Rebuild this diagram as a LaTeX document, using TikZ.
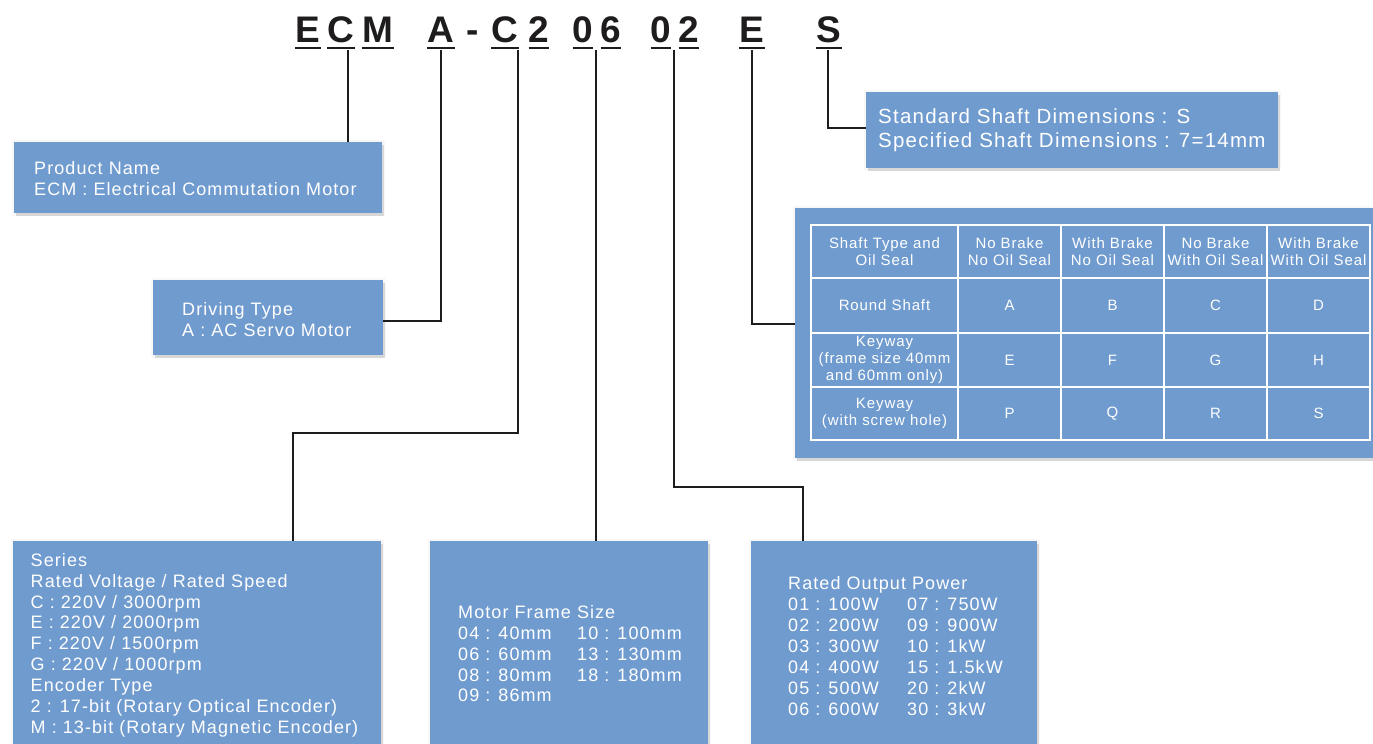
\documentclass[tikz,border=0pt]{standalone}
\usepackage{fontspec}
\setmainfont{Liberation Sans}[LetterSpace=6]
\newfontfamily\codefont{Liberation Sans}
\usetikzlibrary{shadows,calc}
\definecolor{boxblue}{RGB}{112,155,207}
\definecolor{inkline}{RGB}{30,28,28}
\begin{document}
\begin{tikzpicture}[x=1pt,y=-1pt,
  box/.style={fill=boxblue, draw=none, anchor=north west, inner sep=0,
    preaction={draw=black, draw opacity=.03, line width=5pt, line join=round},
    drop shadow={shadow xshift=1.5pt, shadow yshift=-3pt, opacity=.13, fill=black}},
  txt/.style={text=white, anchor=north west, inner sep=0, font=\fontsize{18}{21}\selectfont},
  code/.style={anchor=base, inner sep=0, text=inkline, font=\codefont\bfseries\fontsize{37}{37}\selectfont},
  uline/.style={draw=inkline, line width=1.5pt},
  conn/.style={draw=inkline, line width=1.6pt},
  cell/.style={text=white, align=center, inner sep=0, font=\fontsize{15}{17}\selectfont},
  grid/.style={draw=white, line width=1.4pt}]
\useasboundingbox[fill=white] (0,0) rectangle (1373,744);

% ---- code letters
\foreach \n/\ch/\x in {l1/E/308, l2/C/341, l3/M/378, l4/A/441, l6/C/505, l7/2/539, l8/0/583, l9/6/611, l10/0/661, l11/2/689, l12/E/752, l13/S/829}{
  \node[code] (\n) at (\x,42) {\ch};
  \draw[uline] ([yshift=-6pt]\n.base west) -- ([yshift=-6pt]\n.base east);
}
\node[code] (l5) at (473,42) {-};

% ---- boxes
\node[box, minimum width=368pt, minimum height=71pt] (pn) at (14,142) {};
\node[box, minimum width=230pt, minimum height=75pt] (dt) at (153,280) {};
\node[box, minimum width=368pt, minimum height=215pt] (se) at (13,541) {};
\node[box, minimum width=278pt, minimum height=215pt] (mf) at (430,541) {};
\node[box, minimum width=286pt, minimum height=215pt] (ro) at (751,541) {};
\node[box, minimum width=412pt, minimum height=76pt] (ss) at (866,92) {};
\node[box, minimum width=590pt, minimum height=250pt] (tb) at (795,208) {};

% ---- box texts
\node[txt] (pnt) at (34,159.3) {\begin{tabular}{@{}l@{}}Product Name\\ECM : Electrical Commutation Motor\end{tabular}};
\node[txt] (dtt) at (182,300.3) {\begin{tabular}{@{}l@{}}Driving Type\\A : AC Servo Motor\end{tabular}};
\node[txt, font=\fontsize{18}{20.9}\selectfont] (set) at (30.5,551.4) {\begin{tabular}{@{}l@{}}Series\\Rated Voltage / Rated Speed\\C : 220V / 3000rpm\\E : 220V / 2000rpm\\F : 220V / 1500rpm\\G : 220V / 1000rpm\\Encoder Type\\2 : 17-bit (Rotary Optical Encoder)\\M : 13-bit (Rotary Magnetic Encoder)\end{tabular}};
\node[txt, font=\fontsize{18}{20.8}\selectfont] (mft) at (458,604) {\begin{tabular}{@{}p{119pt}@{}l@{}}\multicolumn{2}{@{}l@{}}{Motor Frame Size}\\04 : 40mm & 10 : 100mm\\06 : 60mm & 13 : 130mm\\08 : 80mm & 18 : 180mm\\09 : 86mm & \end{tabular}};
\node[txt] (rot) at (788,575) {\begin{tabular}{@{}p{119pt}@{}l@{}}\multicolumn{2}{@{}l@{}}{Rated Output Power}\\01 : 100W & 07 : 750W\\02 : 200W & 09 : 900W\\03 : 300W & 10 : 1kW\\04 : 400W & 15 : 1.5kW\\05 : 500W & 20 : 2kW\\06 : 600W & 30 : 3kW\end{tabular}};
\node[txt, font=\fontsize{20.5}{24}\selectfont] (sst) at (878,106.6) {\begin{tabular}{@{}l@{}}Standard Shaft Dimensions : S\\Specified Shaft Dimensions : 7=14mm\end{tabular}};

% ---- table grid
\draw[grid] (811,225) rectangle (1370,440);
\foreach \x in {958,1061,1164,1267} \draw[grid] (\x,225) -- (\x,440);
\foreach \y in {278,333,387} \draw[grid] (811,\y) -- (1370,\y);

% ---- table cells
\node[cell] (h0) at (884.5,251.5) {Shaft Type and\\Oil Seal};
\node[cell] (h1) at (1009.5,251.5) {No Brake\\No Oil Seal};
\node[cell] (h2) at (1112.5,251.5) {With Brake\\No Oil Seal};
\node[cell] (h3) at (1215.5,251.5) {No Brake\\With Oil Seal};
\node[cell] (h4) at (1318.5,251.5) {With Brake\\With Oil Seal};
\node[cell] (r1) at (884.5,305.5) {Round Shaft};
\node[cell] (r2) at (884.5,360) {Keyway\\(frame size 40mm\\and 60mm only)};
\node[cell] (r3) at (884.5,413.5) {Keyway\\(with screw hole)};
\foreach \c/\x in {A/1009.5,B/1112.5,C/1215.5,D/1318.5} \node[cell] (c\c) at (\x,305.5) {\c};
\foreach \c/\x in {E/1009.5,F/1112.5,G/1215.5,H/1318.5} \node[cell] (c\c) at (\x,360) {\c};
\foreach \c/\x in {P/1009.5,Q/1112.5,R/1215.5,S/1318.5} \node[cell] (c\c) at (\x,413.5) {\c};

% ---- connectors
\coordinate (k1) at (348,50);
\coordinate (k2) at (441,50);
\coordinate (k3) at (518,50);
\coordinate (k4) at (596,50);
\coordinate (k5) at (674,50);
\coordinate (k6) at (752,50);
\coordinate (k7) at (828,50);
\coordinate (j3) at (293,433);
\coordinate (j5) at (803,487);
\draw[conn] (k1) -- (k1 |- pn.north);
\draw[conn] (k2) |- ([yshift=-3pt]dt.east);
\draw[conn] (k3) |- (j3) -- (j3 |- se.north);
\draw[conn] (k4) -- (k4 |- mf.north);
\draw[conn] (k5) |- (j5) -- (j5 |- ro.north);
\draw[conn] (k6) |- ([yshift=9pt]tb.west);
\draw[conn] (k7) |- ([yshift=2pt]ss.west);
\end{tikzpicture}
\end{document}
